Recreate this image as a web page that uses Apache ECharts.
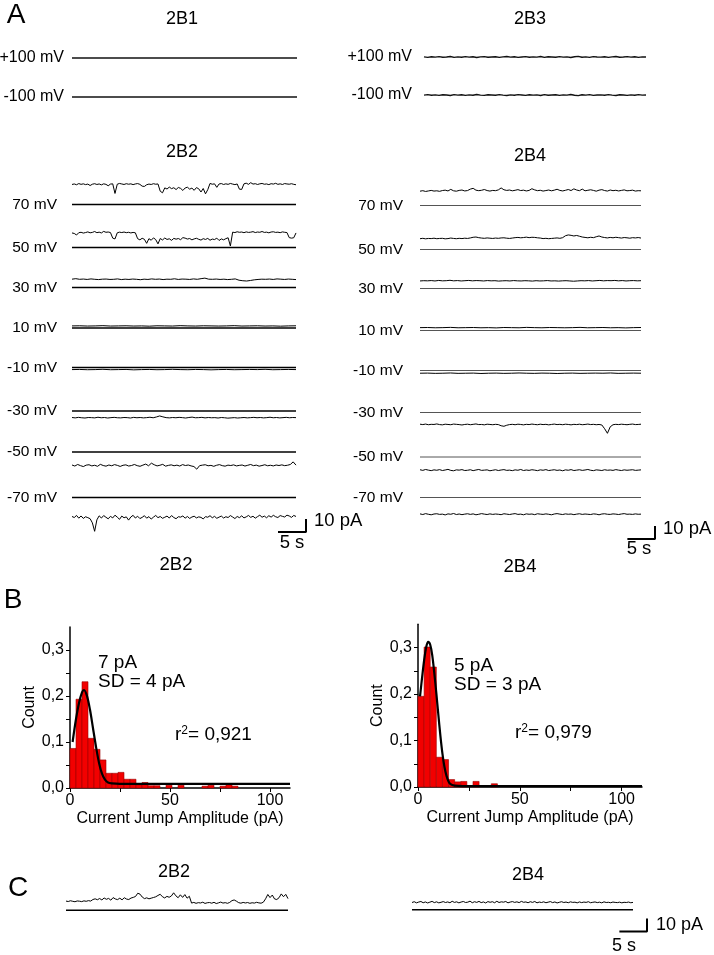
<!DOCTYPE html>
<html><head><meta charset="utf-8">
<script src="https://cdn.jsdelivr.net/npm/echarts@6/dist/echarts.min.js"></script>
<style>html,body{margin:0;padding:0;background:#fff}#c{width:714px;height:955px}</style>
</head><body><div id="c"></div>
<script>
// ---------------- DATA ----------------
const traceSeconds = 40;           // record length (s)
const scaleBarSeconds = 5;         // time scale bar
const scaleBarPicoAmp = 10;        // current scale bar
const closedLevel = [0, 0];        // closed-channel baseline (pA)

// Panel A, 2B1 / 2B3 (pA)
const b1Plus100 = [0, 0];
const b1Minus100 = [0, 0];
const b3Plus100 = [0.1,-0.3,0.2,-0.1,0.3,-0.2,0.0,0.4,-0.3,0.1,-0.2,0.3,-0.1,0.2,-0.4,0.1,0.3,-0.2,0.0,0.2,-0.3,0.1,0.4,-0.1,0.2,-0.3,0.0,0.3,-0.2,0.1,-0.1,0.4,-0.3,0.2,0.0,-0.2,0.3,-0.1,0.1,-0.4,0.2,0.5,-0.2,0.1,-0.3,0.3,0.0,-0.1,0.2,-0.3,0.1,0.4,-0.2,0.0,0.3,-0.1,0.2,-0.3,0.1,0.0];
const b3Minus100 = [-0.1,0.3,-0.2,0.1,-0.3,0.2,0.0,-0.4,0.3,-0.1,0.2,-0.3,0.1,-0.2,0.4,-0.1,-0.3,0.2,0.0,-0.2,0.3,-0.1,-0.4,0.1,-0.2,0.3,0.0,-0.3,0.2,-0.1,0.1,-0.4,0.3,-0.2,0.0,0.2,-0.3,0.1,-0.1,0.4,-0.2,-0.5,0.2,-0.1,0.3,-0.3,0.0,0.1,-0.2,0.3,-0.1,-0.4,0.2,0.0,-0.3,0.1,-0.2,0.3,-0.1,0.0];

// Panel A, 2B2 traces (pA) at 70, 50, 30, 10, -10, -30, -50, -70 mV
const b2Voltages = ['70 mV','50 mV','30 mV','10 mV','-10 mV','-30 mV','-50 mV','-70 mV'];
const b2_70 = [15.4,15.8,15.2,16.1,15.5,15.9,15.3,15.7,14.6,15.6,16.0,15.4,15.8,15.1,15.9,15.5,14.4,15.7,15.9,8.5,15.6,16.2,15.8,15.4,16.0,15.6,15.9,15.3,15.8,16.1,15.5,14.1,13.9,15.2,15.7,15.4,16.0,15.6,15.8,10.2,9.0,12.8,11.9,13.4,12.2,12.9,11.5,13.1,12.4,10.8,12.7,13.3,11.8,12.6,10.9,13.0,12.1,9.6,12.3,8.2,11.4,16.2,15.6,15.9,13.2,15.8,16.1,15.4,15.9,15.5,16.2,15.7,15.3,15.8,11.8,11.6,15.9,16.4,15.5,16.8,15.7,16.0,15.4,15.9,16.2,15.6,15.8,15.3,16.0,15.7,16.3,15.5,15.9,15.4,16.1,15.8,15.6,16.0,15.5,15.2];
const b2_50 = [11.2,10.8,9.6,11.4,11.7,11.1,11.5,12.0,11.3,11.6,12.3,11.4,11.8,11.2,12.4,11.7,11.9,11.5,7.2,6.6,11.3,11.8,11.5,11.9,11.4,11.7,11.2,11.6,11.3,6.8,5.9,7.1,6.3,3.2,6.8,5.6,7.4,6.1,2.8,6.9,5.8,7.3,6.2,6.7,5.5,7.0,6.4,6.9,6.0,7.6,7.2,6.5,6.9,5.9,6.6,7.1,6.3,5.7,6.8,6.2,7.0,5.6,6.5,6.1,7.2,5.4,6.6,5.9,6.8,7.5,1.2,11.8,11.5,12.1,11.7,11.9,11.4,12.0,11.6,11.8,12.2,11.5,11.9,11.7,12.3,11.6,11.8,11.3,11.9,12.1,11.6,11.8,11.4,12.0,11.7,11.5,7.6,7.2,7.5,11.2];
const b2_30 = [6.4,6.8,6.3,6.5,6.2,6.6,6.3,6.1,6.4,6.5,6.2,6.3,6.6,6.1,6.4,6.2,6.5,6.3,6.0,6.4,6.2,6.6,6.3,6.5,6.1,6.4,6.3,6.7,6.2,6.5,6.4,6.2,6.6,6.3,6.8,7.2,6.4,6.3,6.5,6.2,6.4,6.1,6.3,6.6,5.6,5.2,5.0,5.4,5.9,6.2,6.4,6.3,6.5,6.2,6.6,6.4,6.2,6.5,6.3,6.1];
const b2_10 = [1.6,1.7,1.5,1.6,1.8,1.5,1.6,1.7,1.5,1.6,1.4,1.7,1.6,1.5,1.8,1.6,1.5,1.7,1.6,1.5,1.6,1.8,1.5,1.6,1.7,1.5,1.6,1.4,1.6,1.7];
const b2_m10 = [-1.6,-1.5,-1.7,-1.6,-1.4,-1.7,-1.6,-1.5,-1.8,-1.6,-1.5,-1.7,-1.6,-1.4,-1.6,-1.7,-1.5,-1.6,-1.8,-1.6,-1.5,-1.7,-1.6,-1.5,-1.6,-1.4,-1.7,-1.6,-1.5,-1.6];
const b2_m30 = [-5.0,-5.3,-4.9,-5.2,-5.4,-5.0,-5.1,-5.3,-4.8,-5.2,-5.0,-5.4,-5.1,-4.9,-5.2,-5.3,-5.0,-5.1,-5.4,-4.9,-5.2,-5.0,-5.3,-5.1,-4.8,-5.2,-4.6,-3.8,-4.5,-5.1,-5.3,-5.0,-5.2,-4.9,-5.1,-5.4,-5.0,-4.7,-5.2,-5.1,-4.9,-5.3,-5.0,-5.2,-5.1,-5.4,-5.0,-5.2,-5.5,-5.3,-5.1,-5.4,-5.2,-5.0,-5.3,-5.1,-4.9,-5.2,-5.0,-5.3,-5.1,-4.8,-5.2,-5.0,-5.3,-5.1,-4.9,-5.2,-5.0,-5.1];
const b2_m50 = [-10.0,-10.8,-9.6,-10.5,-11.2,-10.1,-9.8,-10.7,-10.2,-11.0,-9.5,-10.4,-10.9,-10.0,-10.6,-9.7,-10.3,-11.1,-10.2,-9.9,-10.8,-10.4,-9.6,-10.5,-11.0,-10.1,-9.3,-10.6,-8.6,-9.8,-10.7,-10.2,-9.5,-10.9,-10.3,-9.9,-10.6,-10.1,-10.8,-9.7,-10.4,-10.0,-10.7,-11.2,-13.2,-10.5,-10.1,-9.8,-10.6,-10.3,-11.0,-10.2,-9.7,-10.5,-10.9,-10.1,-10.4,-9.9,-10.7,-10.3,-10.0,-10.8,-10.2,-9.6,-10.5,-10.1,-10.9,-10.4,-9.8,-10.6,-10.2,-10.7,-10.0,-10.4,-9.9,-10.5,-10.2,-9.6,-7.6,-10.1];
const b2_m70 = [-14.6,-15.4,-13.8,-15.9,-14.2,-16.1,-14.8,-15.5,-16.3,-19.5,-26.0,-17.2,-14.1,-15.8,-13.9,-15.2,-16.4,-14.5,-15.7,-13.6,-15.1,-16.8,-14.3,-15.6,-14.9,-17.4,-15.0,-13.7,-15.8,-14.4,-16.2,-15.3,-14.0,-15.9,-14.7,-16.6,-15.1,-13.8,-15.5,-14.6,-16.0,-15.2,-14.3,-15.8,-13.9,-15.4,-16.3,-14.8,-15.1,-14.2,-15.9,-14.6,-16.1,-15.0,-14.4,-15.7,-14.9,-15.3,-16.5,-14.7,-15.2,-14.0,-15.6,-14.5,-16.0,-15.1,-14.3,-15.8,-14.8,-15.4,-13.9,-15.0,-16.2,-14.6,-15.5,-14.1,-15.7,-14.9,-13.8,-15.3,-14.4,-15.9,-14.7,-13.6,-15.2,-14.3,-15.6,-14.0,-15.1,-13.7,-14.8,-15.4,-13.9,-14.5,-15.0,-13.6,-14.2,-15.3,-13.8,-14.6];

// Panel A, 2B4 traces (pA)
const b4_70 = [11.0,11.4,10.8,11.2,11.6,11.1,11.3,10.9,11.5,11.8,11.2,12.4,11.3,11.0,11.6,11.9,11.2,11.5,12.6,13.2,11.8,11.4,11.7,12.3,11.5,11.1,11.6,11.4,12.0,13.5,12.1,11.6,11.9,11.3,11.7,12.2,11.5,11.8,11.2,11.6,12.9,12.0,11.4,11.7,11.1,11.5,11.9,11.3,11.8,12.5,11.6,11.2,11.7,12.3,11.5,12.8,11.9,11.4,12.6,11.3,11.7,12.1,11.6,11.0,11.8,12.2,11.5,11.1,11.9,11.4,11.7,11.2,11.6,12.0,11.3,11.5,11.8,11.1,11.4,11.3];
const b4_50 = [8.3,8.6,8.2,8.5,8.4,8.7,8.3,8.5,8.6,8.2,8.4,8.8,8.5,8.3,8.6,8.4,8.7,8.5,8.9,9.4,9.6,9.1,8.8,8.6,8.9,8.7,8.5,8.8,8.6,8.9,9.0,8.7,8.5,8.8,9.1,9.3,9.0,9.2,9.5,9.1,9.4,9.3,9.0,8.8,8.4,8.6,8.3,8.5,8.7,8.9,8.6,9.1,10.6,11.2,10.9,10.4,10.8,10.2,9.6,9.3,9.0,9.4,9.1,9.8,10.4,9.6,9.2,8.9,9.3,9.0,9.4,9.1,8.8,9.2,9.0,8.7,9.1,8.9,9.2,8.8];
const b4_30 = [5.8,6.0,5.9,6.1,5.8,6.2,5.9,6.0,6.3,5.9,6.1,5.8,6.0,6.2,5.9,6.1,6.0,5.8,6.1,5.9,6.0,5.7,5.9,6.0,5.8,6.1,5.9,5.8,6.0,5.9,5.7,6.0,5.8,5.9,6.1,5.8,5.9,5.7,5.9,6.0,5.8,5.6,5.8,6.0,5.9,6.1,5.8,6.0,6.2,5.9,6.1,6.0,6.2,5.9,6.1,5.8,6.0,6.1,5.9,6.0];
const b4_10 = [2.2,2.3,2.1,2.2,2.4,2.1,2.2,2.3,2.1,2.2,2.0,2.3,2.2,2.1,2.4,2.2,2.1,2.3,2.2,2.1,2.2,2.4,2.1,2.2,2.3,2.1,2.2,2.0,2.2,2.3];
const b4_m10 = [-2.1,-2.0,-2.2,-2.1,-1.9,-2.2,-2.1,-2.0,-2.3,-2.1,-2.0,-2.2,-2.1,-1.9,-2.1,-2.2,-2.0,-2.1,-2.3,-2.1,-2.0,-2.2,-2.1,-2.0,-2.1,-1.9,-2.2,-2.1,-2.0,-2.1];
const b4_m30 = [-9.0,-9.3,-8.9,-9.4,-9.1,-9.2,-8.8,-9.3,-9.5,-9.0,-9.2,-9.4,-8.9,-9.1,-9.3,-9.6,-9.2,-9.0,-9.4,-9.1,-8.8,-9.3,-9.2,-9.5,-9.0,-9.2,-9.4,-9.1,-9.3,-10.2,-10.6,-9.8,-9.3,-9.1,-9.4,-9.0,-9.2,-9.5,-9.1,-9.3,-8.9,-9.2,-9.4,-9.0,-9.3,-9.1,-9.5,-9.2,-8.9,-9.3,-9.1,-9.4,-9.0,-9.2,-9.5,-9.1,-9.3,-9.0,-9.4,-9.2,-8.9,-9.3,-9.1,-9.4,-9.2,-9.6,-12.5,-16.0,-11.0,-9.4,-9.1,-9.3,-9.0,-9.2,-9.4,-9.1,-8.9,-9.3,-9.2,-9.0];
const b4_m50 = [-9.8,-10.3,-9.6,-10.1,-10.5,-9.9,-10.2,-9.7,-10.4,-10.0,-9.5,-10.3,-10.6,-9.9,-10.1,-9.7,-10.4,-10.2,-9.8,-10.5,-10.0,-9.6,-10.3,-10.1,-9.9,-10.6,-10.2,-9.8,-10.4,-10.0,-9.7,-10.3,-10.1,-10.5,-9.9,-10.2,-9.6,-10.4,-10.0,-10.3,-9.8,-10.1,-10.5,-9.9,-10.2,-9.7,-10.4,-10.1,-9.8,-10.3,-10.0,-10.6,-9.9,-10.2,-9.7,-10.4,-10.1,-9.8,-10.3,-10.0,-9.6,-10.2,-10.5,-9.9,-10.1,-10.4,-9.8,-10.2,-10.0,-10.3,-9.7,-10.1,-10.4,-9.9,-10.2,-10.0,-9.8,-10.3,-10.1,-9.9];
const b4_m70 = [-12.6,-13.1,-12.4,-12.9,-13.3,-12.7,-12.5,-13.0,-12.8,-13.4,-12.6,-12.9,-12.3,-13.1,-12.7,-13.2,-12.8,-12.5,-13.0,-12.6,-13.3,-12.9,-12.4,-12.8,-13.1,-12.6,-13.0,-12.7,-12.9,-13.2,-12.5,-12.8,-13.1,-12.7,-12.4,-13.0,-12.8,-13.3,-12.6,-12.9,-12.7,-13.2,-12.5,-12.8,-13.0,-12.6,-12.9,-13.3,-12.7,-12.4,-12.8,-13.1,-12.6,-12.9,-12.7,-13.2,-12.8,-12.5,-13.0,-12.7,-12.9,-13.1,-12.6,-12.8,-13.3,-12.7,-12.5,-12.9,-13.0,-12.6,-12.8,-13.1,-12.7,-12.4,-12.9,-12.8,-13.0,-12.6,-12.9,-12.8];

// Panel B histograms: bin width (pA) and normalised counts per bin starting at 0
const binWidth = 3;
const hist2B2 = [0.086,0.193,0.231,0.108,0.084,0.061,0.032,0.032,0.034,0.019,0.019,0.007,0.012,0.005,0.005,0,0.006,0,0.006,0,0,0,0.004,0.006,0,0.004,0.007,0.004];
const hist2B4 = [0.195,0.301,0.258,0.064,0.059,0.016,0.011,0.012,0,0.012,0,0,0.007];
const fitX2B2 = [1.3,3,4.5,6,7,8.5,10,11.5,13,14.5,16,17.5,19,21,25,110];
const fitY2B2 = [0.100,0.150,0.185,0.208,0.213,0.200,0.170,0.130,0.090,0.055,0.031,0.018,0.012,0.010,0.009,0.009];
const fitX2B4 = [1,2,3,4,5,6,7,8,9,10,11,12,13,14,15,16,18,22,110];
const fitY2B4 = [0.195,0.235,0.272,0.300,0.312,0.306,0.283,0.245,0.202,0.155,0.110,0.072,0.043,0.024,0.012,0.006,0.003,0.002,0.002];
const countTicks = [0, 0.1, 0.2, 0.3];
const amplitudeTicks = [0, 50, 100];

// Panel C traces (pA)
const c2B2 = [8.2,7.8,8.5,8.0,7.6,8.3,8.1,7.7,8.4,8.0,8.6,8.2,9.6,10.2,9.4,10.5,9.2,11.0,9.8,10.6,9.0,11.3,10.1,9.5,10.8,9.3,11.2,10.0,9.6,10.9,11.5,12.3,15.2,14.4,11.8,10.4,11.1,10.2,10.8,11.4,12.0,13.2,14.3,12.1,11.0,12.4,11.6,12.8,15.6,12.9,11.2,13.8,11.5,14.0,10.8,12.5,6.4,7.0,6.2,6.8,6.5,7.2,6.1,6.7,6.9,6.3,7.1,6.0,6.6,7.3,6.4,6.8,6.2,7.0,8.6,9.2,8.1,6.8,6.3,7.0,6.5,6.9,6.2,6.7,6.4,7.1,6.6,6.3,7.2,10.2,14.1,11.3,13.6,10.1,9.6,11.2,14.6,12.1,14.2,10.4];
const c2B4 = [6.4,7.1,6.1,6.8,7.3,6.2,6.9,6.0,6.7,7.4,6.3,7.0,6.1,6.6,7.2,6.4,6.9,6.2,7.5,6.5,7.0,6.1,6.8,7.3,6.4,6.7,7.6,6.2,7.1,6.5,7.4,6.3,6.9,6.0,7.2,6.6,7.1,6.2,7.5,6.4,7.0,6.7,7.3,6.1,6.8,7.2,6.5,7.0,6.3,7.4,6.6,6.9,6.2,7.1,6.5,7.3,6.1,6.8,6.4,7.0,6.2,6.7,7.2,6.3,6.9,6.0,6.6,7.1,6.4,6.8,6.2,7.0,6.5,6.7,6.1,6.9,6.3,6.8,6.5,7.1,6.2,6.6,6.9,6.3,6.7,6.1,7.0,6.4,6.6,6.2,6.8,6.5,6.3,6.7,6.1,6.6,6.4,6.8,6.2,6.5];

// ---------------- LAYOUT / BUILD ----------------
const FONT = "'Liberation Sans', Arial, sans-serif";
const PX_PER_PA = 1.3;
const grids = [], xAxes = [], yAxes = [], series = [], graphics = [];

function toXY(values) {
  const n = values.length;
  return values.map((v, i) => [i * traceSeconds / (n - 1), v]);
}
function addTraceGrid(left, right, baseY) {
  const idx = grids.length;
  grids.push({left: left, top: baseY - 40 * PX_PER_PA, width: right - left, height: 80 * PX_PER_PA});
  xAxes.push({gridIndex: idx, type: 'value', min: 0, max: traceSeconds, show: false});
  yAxes.push({gridIndex: idx, type: 'value', min: -40, max: 40, show: false});
  return idx;
}
function addLine(idx, data, color, width) {
  series.push({type: 'line', xAxisIndex: idx, yAxisIndex: idx, data: data, symbol: 'none',
    clip: false, silent: true, lineStyle: {color: color, width: width}});
}
function addTrace(left, right, baseY, values, baseColor, baseWidth, traceWidth) {
  const idx = addTraceGrid(left, right, baseY);
  addLine(idx, toXY(closedLevel), baseColor, baseWidth);
  if (values) addLine(idx, toXY(values), '#000', traceWidth);
}
function addScaleBar(rightX, bottomY, pxPerSec) {
  const idx = grids.length;
  const w = scaleBarSeconds * pxPerSec, h = scaleBarPicoAmp * PX_PER_PA;
  grids.push({left: rightX - w, top: bottomY - h, width: w, height: h});
  xAxes.push({gridIndex: idx, type: 'value', min: 0, max: scaleBarSeconds, show: false});
  yAxes.push({gridIndex: idx, type: 'value', min: 0, max: scaleBarPicoAmp, show: false});
  addLine(idx, [[0, 0], [scaleBarSeconds, 0], [scaleBarSeconds, scaleBarPicoAmp]], '#000', 2);
}
function text(x, y, str, size, align, extra) {
  graphics.push(Object.assign({type: 'text', x: x, y: y, silent: true,
    style: {text: str, fill: '#000', font: size + 'px ' + FONT, align: align || 'center', verticalAlign: 'middle'}}, extra || {}));
}

// Panel letters
text(16, 15, 'A', 28, 'center');
text(13, 600, 'B', 28, 'center');
text(18, 888, 'C', 28, 'center');

// Panel A top row
text(182, 19, '2B1', 18);
text(530, 19, '2B3', 18);
text(64, 58, '+100 mV', 16, 'right');
text(64, 97, '-100 mV', 16, 'right');
text(412, 57, '+100 mV', 16, 'right');
text(412, 95, '-100 mV', 16, 'right');
(function(){
  let i = addTraceGrid(72, 297, 58); addLine(i, toXY(b1Plus100), '#111', 1.6);
  i = addTraceGrid(72, 297, 97); addLine(i, toXY(b1Minus100), '#111', 1.6);
  i = addTraceGrid(424, 646, 57); addLine(i, toXY(b3Plus100), '#111', 1.4);
  i = addTraceGrid(424, 646, 95); addLine(i, toXY(b3Minus100), '#111', 1.4);
})();

// Panel A 2B2 / 2B4 stacks
text(182, 152, '2B2', 18);
text(530, 156, '2B4', 18);
const b2Traces = [b2_70, b2_50, b2_30, b2_10, b2_m10, b2_m30, b2_m50, b2_m70];
const b4Traces = [b4_70, b4_50, b4_30, b4_10, b4_m10, b4_m30, b4_m50, b4_m70];
const b2BaseY = [204.5, 247.5, 287.5, 328, 367.5, 411, 452, 497.5];
const b4BaseY = [205.5, 249.5, 288.5, 330.5, 370.5, 412.5, 457, 497.5];
b2Voltages.forEach((lab, k) => {
  text(57, b2BaseY[k], lab, 15.5, 'right');
  addTrace(72, 296, b2BaseY[k], b2Traces[k], '#000', 1.5, 1);
  text(403, b4BaseY[k], lab, 15.5, 'right');
  addTrace(420, 641, b4BaseY[k], b4Traces[k], '#555', 1, 1);
});
addScaleBar(306, 532, 224 / traceSeconds);
text(314, 521, '10 pA', 18.5, 'left');
text(292, 543, '5 s', 18.5);
text(176, 565, '2B2', 18.5);
addScaleBar(655, 539, 221 / traceSeconds);
text(663, 529, '10 pA', 18.5, 'left');
text(639, 549, '5 s', 18.5);
text(520, 567, '2B4', 18.5);

// Panel B histograms
function addHistogram(left, top, width, height, counts, fitX, fitY) {
  const idx = grids.length;
  grids.push({left: left, top: top, width: width, height: height});
  xAxes.push({gridIndex: idx, type: 'value', min: 0, max: 110,
    name: 'Current Jump Amplitude (pA)', nameLocation: 'middle', nameGap: 23,
    nameTextStyle: {fontSize: 16, fontFamily: FONT, color: '#000'},
    axisLine: {lineStyle: {color: '#000', width: 1.5}},
    axisTick: {show: true, inside: false, length: 4, customValues: [0, 25, 50, 75, 100], lineStyle: {color: '#000', width: 1}},
    axisLabel: {customValues: amplitudeTicks, fontSize: 16, fontFamily: FONT, color: '#000', margin: 5},
    splitLine: {show: false}});
  yAxes.push({gridIndex: idx, type: 'value', min: 0, max: 0.35,
    name: 'Count', nameLocation: 'middle', nameGap: 31, nameRotate: 90,
    nameTextStyle: {fontSize: 16, fontFamily: FONT, color: '#000'},
    axisLine: {lineStyle: {color: '#000', width: 1.5}},
    axisTick: {show: true, inside: false, length: 4, customValues: [0, 0.05, 0.1, 0.15, 0.2, 0.25, 0.3], lineStyle: {color: '#000', width: 1}},
    axisLabel: {customValues: countTicks, fontSize: 16, fontFamily: FONT, color: '#000', margin: 6,
      formatter: v => v.toFixed(1).replace('.', ',')},
    splitLine: {show: false}});
  series.push({type: 'custom', xAxisIndex: idx, yAxisIndex: idx, silent: true,
    data: counts.map((c, i) => [i * binWidth, (i + 1) * binWidth, c]).filter(d => d[2] > 0),
    renderItem: function (params, api) {
      const p0 = api.coord([api.value(0), api.value(2)]);
      const p1 = api.coord([api.value(1), 0]);
      return {type: 'rect', shape: {x: p0[0], y: p0[1], width: p1[0] - p0[0], height: p1[1] - p0[1]},
        style: {fill: '#f20000', stroke: '#9a0000', lineWidth: 0.6}};
    }});
  series.push({type: 'line', xAxisIndex: idx, yAxisIndex: idx, silent: true, symbol: 'none', smooth: 0.35,
    data: fitX.map((x, i) => [x, fitY[i]]), lineStyle: {color: '#000', width: 2.2}, z: 5});
}
addHistogram(70, 788 - 0.35 * 460, 220, 0.35 * 460, hist2B2, fitX2B2, fitY2B2);
addHistogram(418, 787 - 0.35 * 465, 224, 0.35 * 465, hist2B4, fitX2B4, fitY2B4);
text(98, 663, '7 pA', 19, 'left');
text(98, 682, 'SD = 4 pA', 19, 'left');
text(454, 666, '5 pA', 19, 'left');
text(454, 685, 'SD = 3 pA', 19, 'left');
const richR = {a: {fontSize: 19, fontFamily: FONT, fill: '#000'}, s: {fontSize: 12, fontFamily: FONT, fill: '#000', verticalAlign: 'top', padding: [0,0,8,0]}};
graphics.push({type: 'text', x: 175, y: 735, silent: true, style: {text: '{a|r}{s|2}{a|= 0,921}', rich: richR, align: 'left', verticalAlign: 'middle'}});
graphics.push({type: 'text', x: 515, y: 733, silent: true, style: {text: '{a|r}{s|2}{a|= 0,979}', rich: richR, align: 'left', verticalAlign: 'middle'}});

// Panel C
text(174, 872, '2B2', 18);
text(528, 875, '2B4', 18);
addTrace(66, 288, 917.5, c2B2, '#000', 1.5, 1);
addTrace(412, 633, 916.5, c2B4, '#000', 1.5, 1);
addScaleBar(647, 931.5, 221 / traceSeconds);
text(656, 925, '10 pA', 18, 'left');
text(624, 946, '5 s', 18);

const chart = echarts.init(document.getElementById('c'), null, {renderer: 'canvas'});
chart.setOption({
  animation: false,
  backgroundColor: '#fff',
  grid: grids, xAxis: xAxes, yAxis: yAxes, series: series,
  graphic: {elements: graphics}
});
</script></body></html>
